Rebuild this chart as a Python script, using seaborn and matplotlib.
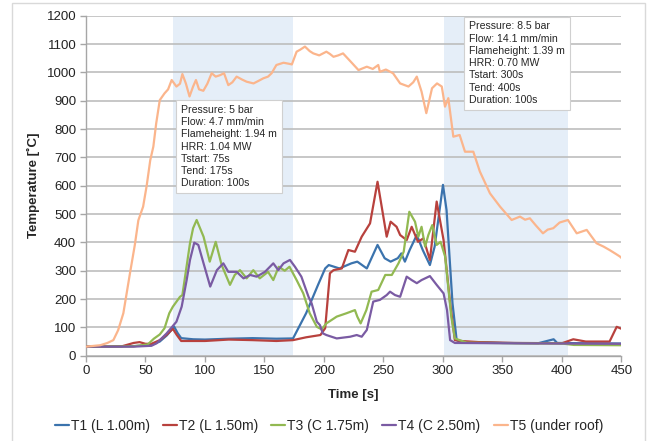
import numpy as np
import pandas as pd
import seaborn as sns
import matplotlib.pyplot as plt
from matplotlib.patches import Rectangle

# series (time [s], temperature [C])
t1 = [0, 20, 40, 55, 62, 68, 72, 74, 77, 80, 90, 100, 120, 140, 160, 174, 185, 195, 201, 204,
      213, 223, 228, 236, 245, 251, 256, 262, 265, 268, 272, 278, 283, 289, 293, 300, 303, 308,
      311.5, 315, 330, 350, 380, 393, 396, 420, 450]
v1 = [32, 32, 34, 38, 50, 72, 92, 103, 80, 62, 58, 57, 60, 62, 60, 61, 150, 250, 308, 320,
      308, 326, 332, 308, 391, 344, 332, 344, 361, 332, 373, 426, 373, 320, 385, 603, 514, 185,
      55, 47, 48, 45, 44, 58, 45, 44, 43]

t2 = [0, 30, 40, 45, 50, 55, 62, 68, 73, 76, 80, 100, 120, 140, 160, 174, 185, 197, 201, 205,
      208, 215, 220.5, 226, 231.7, 238.7, 245, 248.5, 252.7, 256, 261, 264, 269.5, 273.7, 279,
      283.5, 289, 294.7, 300.5, 306, 310, 315, 330, 360, 400, 409.5, 420, 440, 446, 450]
v2 = [32, 33, 45, 48, 42, 42, 55, 75, 95, 75, 52, 52, 57, 55, 52, 55, 65, 73, 97, 291,
      302, 308, 373, 367, 420, 467, 614, 526, 420, 473, 455, 426, 408, 455, 402,
      414, 338, 544, 408, 185, 55, 52, 48, 45, 44, 58, 50, 50, 102, 95]

t3 = [0, 40, 52, 57, 62, 66, 70, 73, 79, 81, 84, 87.4, 90, 93, 98.8, 104, 109, 114, 121, 125,
      129.4, 135, 140.6, 146, 153, 157.4, 162, 167, 171, 177, 182.6, 188, 194, 198, 202, 210.7,
      219, 226, 228, 230.8, 235.6, 240, 245.6, 251.5, 257, 262.6, 267, 271.7, 276.5, 279.3, 282,
      285, 287.7, 291, 294.7, 298, 301.8, 307, 310, 320, 360, 400, 410, 450]
v3 = [32, 33, 40, 60, 75, 97, 150, 173, 208, 214, 300, 397, 450, 479, 420, 332, 402, 320, 250, 285,
      302, 273, 302, 273, 296, 267, 314, 300, 314, 267, 220, 150, 102, 93, 114, 138,
      150, 161, 138, 114, 161, 226, 232, 285, 285, 326, 367, 508, 473, 420, 455,
      385, 426, 461, 391, 402, 350, 138, 61, 46, 44, 43, 38, 37]

t4 = [0, 40, 55, 59.4, 67.8, 72, 76, 80.4, 84.6, 87.4, 91, 94.4, 98.8, 104.4, 110, 115.4, 119.6,
      126.6, 132.4, 138, 143.4, 150.4, 157.4, 161.6, 166, 171.4, 175.6, 181, 187, 189.6, 194,
      196.6, 199, 202, 210.7, 222, 227.5, 231.7, 236, 241.4, 247, 252.7, 255.5, 259.7, 264,
      269.5, 273.7, 278, 282, 289, 294.7, 300.5, 303.4, 306, 310, 350, 400, 450]
v4 = [32, 32, 35, 44, 79, 100, 120, 173, 267, 338, 399, 391, 326, 244, 302, 326, 296,
      296, 273, 285, 279, 296, 326, 302, 326, 338, 314, 279, 208, 185, 120,
      108, 79, 73, 61, 67, 73, 67, 91, 191, 197, 214, 226, 214, 208,
      279, 267, 256, 267, 281, 250, 220, 161, 55, 45, 44, 43, 42]

t5 = [0, 12, 18, 23, 27, 31.4, 37, 41, 44, 48, 51, 54, 56.6, 59, 62, 66, 69, 72, 76, 79, 81, 84,
      87, 90, 92.4, 95, 98.6, 102, 105.6, 109, 112.6, 116, 119.6, 123, 126.6, 131, 135, 140.8,
      145, 149, 153, 156, 160, 166, 171, 173, 177, 180, 184, 188, 191, 196, 202, 205, 208, 212,
      216, 222, 229, 233, 236, 241, 245.6, 247, 252, 258, 264, 271, 275, 278, 282, 286, 290.8,
      295, 299, 301.7, 304.5, 308.7, 314, 318.5, 325.5, 331, 339.5, 348, 357.7, 364.7, 369,
      373, 378, 384, 388, 392.7, 398, 405, 412.4, 420.8, 429, 435, 440, 445, 448.7, 450]
v5 = [32, 37, 45, 55, 90, 150, 292, 390, 478, 526, 600, 690, 738, 820, 902, 926, 940, 973, 950,
      960, 994, 960, 915, 950, 973, 940, 935, 960, 997, 985, 990, 997, 955, 965, 985, 975, 967,
      961, 970, 979, 985, 997, 1026, 1034, 1030, 1028, 1073, 1080, 1091, 1075, 1067, 1060, 1073,
      1065, 1055, 1060, 1067, 1040, 1008, 1015, 1020, 1012, 1026, 1002, 1010, 997, 961, 950,
      965, 985, 932, 856, 944, 961, 950, 879, 909, 773, 779, 720, 720, 650, 573, 526, 479,
      491, 480, 485, 460, 432, 445, 450, 470, 479, 432, 444, 397, 385, 373, 360, 350, 345]

names = ["T1 (L 1.00m)", "T2 (L 1.50m)", "T3 (C 1.75m)", "T4 (C 2.50m)", "T5 (under roof)"]
colors = ["#3b73ad", "#b8413d", "#92b952", "#7a5ba3", "#fbb58c"]

spans = [(73, 174), (301, 405)]
notes = ["Pressure: 5 bar\nFlow: 4.7 mm/min\nFlameheight: 1.94 m\nHRR: 1.04 MW\n"
         "Tstart: 75s\nTend: 175s\nDuration: 100s",
         "Pressure: 8.5 bar\nFlow: 14.1 mm/min\nFlameheight: 1.39 m\nHRR: 0.70 MW\n"
         "Tstart: 300s\nTend: 400s\nDuration: 100s"]

frames = []
for name, t, v in zip(names, [t1, t2, t3, t4, t5], [v1, v2, v3, v4, v5]):
    frames.append(pd.DataFrame({"time": t, "temp": v, "sensor": name}))
df = pd.concat(frames, ignore_index=True)

sns.set_theme(style="whitegrid")
plt.rcParams["font.family"] = ["Liberation Sans", "DejaVu Sans"]

fig = plt.figure(figsize=(6.5, 4.41), dpi=100)
ax = fig.add_axes([0.1323, 0.1934, 0.8238, 0.771])

for a, b in spans:
    ax.axvspan(a, b, color="#e5eef8", zorder=0, lw=0)

sns.lineplot(data=df, x="time", y="temp", hue="sensor", palette=colors,
             linewidth=1.6, ax=ax, sort=False, estimator=None, zorder=3)

ax.set_xlim(0, 450)
ax.set_ylim(0, 1200)
ax.set_xticks(np.arange(0, 451, 50))
ax.set_yticks(np.arange(0, 1201, 100))
ax.grid(axis="x", visible=False)
ax.grid(axis="y", color="#bdbdbd", linewidth=1.2)
ax.set_axisbelow(True)
for s in ["top", "right"]:
    ax.spines[s].set_visible(False)
for s in ["left", "bottom"]:
    ax.spines[s].set_color("#a6a6a6")
    ax.spines[s].set_linewidth(1.0)
ax.tick_params(axis="both", labelsize=9.5, colors="#222222", length=4, width=1,
               direction="out", color="#a6a6a6", bottom=True, left=True, pad=3)
ax.set_xlabel("Time [s]", fontsize=9.5, fontweight="bold", labelpad=8)
ax.set_ylabel("Temperature [˚C]", fontsize=9.5, fontweight="bold", labelpad=5)

box = dict(boxstyle="square,pad=0.45", facecolor="white", edgecolor="#d0d0d0", linewidth=0.8)
ax.text(80, 885, notes[0], fontsize=7.6, va="top", ha="left", linespacing=1.28, bbox=box, zorder=5)
ax.text(322, 1180, notes[1], fontsize=7.6, va="top", ha="left", linespacing=1.28, bbox=box, zorder=5)

sns.move_legend(ax, "center", bbox_to_anchor=(0.506, 0.034), bbox_transform=fig.transFigure,
                ncol=5, frameon=False, title=None, fontsize=10, handlelength=1.0,
                handletextpad=0.15, columnspacing=0.95)

fig.patches.append(Rectangle((12 / 650, -0.02), 633 / 650, 1 - 3 / 441 + 0.02,
                             transform=fig.transFigure, fill=False, edgecolor="#d9d9d9",
                             linewidth=1.0))

fig.savefig("out.png", dpi=100)
